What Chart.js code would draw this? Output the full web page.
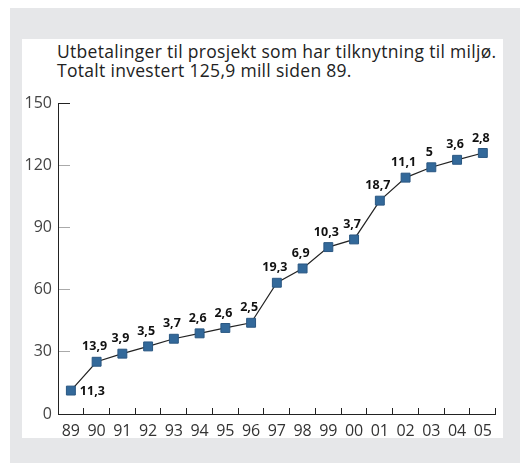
<!DOCTYPE html>
<html><head><meta charset="utf-8">
<script src="https://cdn.jsdelivr.net/npm/chart.js@4"></script>
<style>
html,body{margin:0;padding:0;background:#fff;}
body{width:520px;height:463px;position:relative;overflow:hidden;}
#frame{position:absolute;left:10px;top:8px;right:0;bottom:0;background:#e6e7e9;}
#panel{position:absolute;left:22px;top:39px;width:481px;height:399px;background:#fff;}
#title{position:absolute;left:57px;top:42px;font:17.5px/19px "Open Sans";letter-spacing:0.3px;color:#222;white-space:nowrap;}
#wrap{position:absolute;left:22px;top:92px;width:481px;height:346px;}
</style></head>
<body>
<div id="frame"></div>
<div id="panel"></div>
<div id="title">Utbetalinger til prosjekt som har tilknytning til miljø.<br>Totalt investert 125,9 mill siden 89.</div>
<div id="wrap"><canvas id="c" width="481" height="346"></canvas></div>
<script>
const years = ["89","90","91","92","93","94","95","96","97","98","99","00","01","02","03","04","05"];
const cumulative = [11.3,25.2,29.1,32.6,36.3,38.9,41.5,44.0,63.3,70.2,80.5,84.2,102.9,114.0,119.0,122.6,125.9];
const yearlyLabels = ["11,3","13,9","3,9","3,5","3,7","2,6","2,6","2,5","19,3","6,9","10,3","3,7","18,7","11,1","5","3,6","2,8"];
const yTicks = [0,30,60,90,120,150];

const labelPlugin = {
  id:'pointLabels',
  afterDatasetsDraw(chart){
    const ctx = chart.ctx;
    const meta = chart.getDatasetMeta(0);
    ctx.save();
    ctx.font = 'bold 12.5px "Open Sans"';
    ctx.fillStyle = '#111';
    meta.data.forEach((pt, i) => {
      if (i === 0) {
        ctx.textAlign = 'left'; ctx.textBaseline = 'middle';
        ctx.fillText(yearlyLabels[i], pt.x + 9, pt.y + 1);
      } else {
        ctx.textAlign = 'center'; ctx.textBaseline = 'middle';
        ctx.fillText(yearlyLabels[i], pt.x - 2, pt.y - 15);
      }
    });
    ctx.restore();
  }
};

new Chart(document.getElementById('c'), {
  type:'line',
  data:{ labels: years, datasets:[{
    data: cumulative,
    borderColor:'#222', borderWidth:1.2,
    pointStyle:'rect', pointRadius:6.3, pointHoverRadius:6.3,
    pointBackgroundColor:'#33699a', pointBorderColor:'#2a5782', pointBorderWidth:1,
    tension:0, clip:false
  }]},
  options:{
    responsive:false, animation:false,
    layout:{ padding:{ top:11, right:2, left:0, bottom:0 } },
    plugins:{ legend:{display:false}, tooltip:{enabled:false}, title:{display:false} },
    scales:{
      x:{
        offset:true,
        grid:{ drawOnChartArea:false, tickLength:-6, color:'#222', offset:true, lineWidth:1 },
        border:{ color:'#222', width:1 },
        ticks:{ font:{ family:'Open Sans', size:16 }, color:'#333', padding:14, maxRotation:0, autoSkip:false },
        afterFit(s){ s.height = 24; s.paddingLeft = 0; s.paddingRight = 0; }
      },
      y:{
        min:0, max:150,
        afterBuildTicks(s){ s.ticks = yTicks.map(v => ({value:v})); },
        grid:{ drawOnChartArea:false, tickLength:-12, color: c => (c.tick && (c.tick.value===150 || c.tick.value===0)) ? '#222' : '#aaa' },
        border:{ color:'#222', width:1 },
        ticks:{ font:{ family:'Open Sans', size:16 }, color:'#444', padding:18 },
        afterFit(s){ s.width = 36; s.paddingTop = 0; s.paddingBottom = 0; }
      }
    }
  },
  plugins:[labelPlugin]
});
</script>
</body></html>
